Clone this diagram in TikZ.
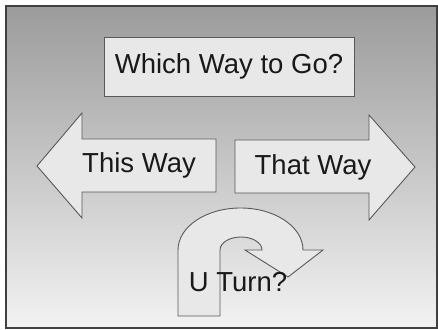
\documentclass[tikz,border=0pt]{standalone}
\usepackage{fontspec}
\setmainfont{Liberation Sans}
\begin{document}
\begin{tikzpicture}[x=1pt,y=1pt,
  every node/.style={font=\fontsize{27.5}{32}\selectfont, text=black!90},
  shapebox/.style={fill=gray!18, draw=black!65, line width=0.9pt}]
\useasboundingbox (0,0) rectangle (438,329);
\fill[white] (0,0) rectangle (438,329);
\shade[top color=gray!78, bottom color=gray!10] (6,1) rectangle (437,323);
\draw[black!75, line width=1.6pt] (6,1) rectangle (437,323);
\node[shapebox, minimum width=250, minimum height=59] (title) at (229,262.5) {Which Way to Go?};
\draw[shapebox] (37,163) -- (82,216) -- (82,190) -- (216,190) -- (216,137) -- (82,137) -- (82,111) -- cycle;
\node (this) at (139,164) {This Way};
\draw[shapebox] (415,162) -- (369,214) -- (369,189) -- (235,189) -- (235,136) -- (369,136) -- (369,109) -- cycle;
\node (that) at (313,162) {That Way};
\draw[shapebox] (178,13) -- (178,79) arc[start angle=180, end angle=0, x radius=62.5, y radius=42]
  -- (323,79) -- (288,52) -- (245,79) -- (262,79)
  arc[start angle=0, end angle=180, x radius=21, y radius=13] -- (220,13) -- cycle;
\node (uturn) at (238,47) {U Turn?};
\end{tikzpicture}
\end{document}
